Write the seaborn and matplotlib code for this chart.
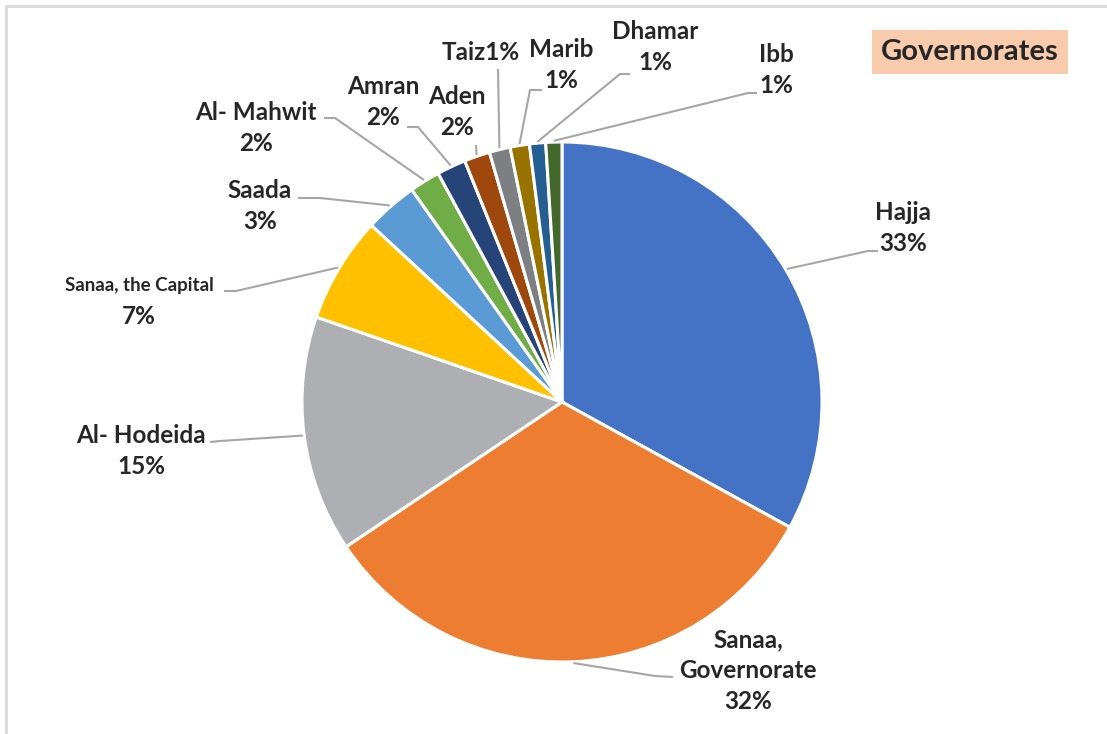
import numpy as np
import matplotlib
matplotlib.use("Agg")
import matplotlib.pyplot as plt
import seaborn as sns

# data
governorates = ["Hajja", "Sanaa,\nGovernorate", "Al- Hodeida", "Sanaa, the Capital", "Saada",
                "Al- Mahwit", "Amran", "Aden", "Taiz", "Marib", "Dhamar", "Ibb"]
shares = [33.0, 32.6, 14.7, 6.6, 3.3, 1.9, 1.8, 1.6, 1.3, 1.2, 1.0, 1.0]
pct_labels = ["33%", "32%", "15%", "7%", "3%", "2%", "2%", "2%", "1%", "1%", "1%", "1%"]
colors = ["#4472C4", "#ED7D31", "#AEAFB3", "#FFC000", "#5B9BD5", "#70AD47",
          "#264478", "#9E480E", "#7E7F83", "#997300", "#255E91", "#43682B"]

W, H = 1107, 734
sns.set_theme(style="white")
plt.rcParams['font.family'] = ['Lato', 'DejaVu Sans']

fig = plt.figure(figsize=(W / 100, H / 100), dpi=100)
ax = fig.add_axes([0, 0, 1, 1])

def fy(y):
    return H - y

cx, cy, R = 562, 402, 260
wedges, _ = ax.pie(shares, colors=sns.color_palette(colors), startangle=90, counterclock=False,
                   center=(cx, fy(cy)), radius=R,
                   wedgeprops=dict(edgecolor='white', linewidth=2.2))
# pie resets the limits, so set the pixel frame afterwards
ax.set_xlim(0, W)
ax.set_ylim(0, H)
ax.set_aspect('equal')
ax.axis('off')

# label layout: text centre, leader end, leader knee (pixel coords, y down)
label_pos = [(903, 228), (748, 671), (141, 451), (139, 300), (260, 206), (256, 128),
             (383, 102), (457, 112), (481, 53), (561, 65), (655, 47), (776, 70)]
leader_end = [(878, 251), (673, 677), (210, 442), (224, 291), (298, 198), (324, 118),
              (407, 127), (476, 145), (498, 69), (542, 90), (630, 74), (757, 93)]
leader_knee = [(868, 251), (655, 676), (220, 441), (236, 291), (320, 198), (335, 118),
               (418, 127), (476, 145), (498, 69), (530, 90), (620, 74), (748, 93)]

txt = '#262626'
fs = 17.5
for i, w in enumerate(wedges):
    mid = np.deg2rad((w.theta1 + w.theta2) / 2)
    sx, sy = cx + R * 1.005 * np.cos(mid), fy(cy) + R * 1.005 * np.sin(mid)
    kx, ky = leader_knee[i]
    ex, ey = leader_end[i]
    ax.plot([sx, kx, ex], [sy, fy(ky), fy(ey)], color='#A6A6A6', lw=1.5,
            solid_capstyle='butt', zorder=1)
    lx, ly = label_pos[i]
    name = governorates[i]
    if name == "Taiz":
        ax.text(lx, fy(ly), name + pct_labels[i], ha='center', va='center',
                fontsize=fs, fontweight='bold', color=txt)
    elif name == "Sanaa, the Capital":
        ax.text(lx, fy(ly - 15), name, ha='center', va='center',
                fontsize=13.5, fontweight='bold', color=txt)
        ax.text(lx, fy(ly + 16), pct_labels[i], ha='center', va='center',
                fontsize=fs, fontweight='bold', color=txt)
    else:
        ax.text(lx, fy(ly), name + "\n" + pct_labels[i], ha='center', va='center',
                fontsize=fs, fontweight='bold', color=txt, linespacing=1.4)

# title box
ax.text(970, fy(52), "Governorates", ha='center', va='center', fontsize=21,
        fontweight='bold', color=txt,
        bbox=dict(boxstyle='square,pad=0.32', facecolor='#F8CBAD', edgecolor='none'))

# chart frame (top and left visible)
ax.plot([6, W], [fy(6), fy(6)], color='#D9D9D9', lw=2)
ax.plot([6, 6], [fy(6), 0], color='#D9D9D9', lw=2)

fig.savefig("out.png", dpi=100)
